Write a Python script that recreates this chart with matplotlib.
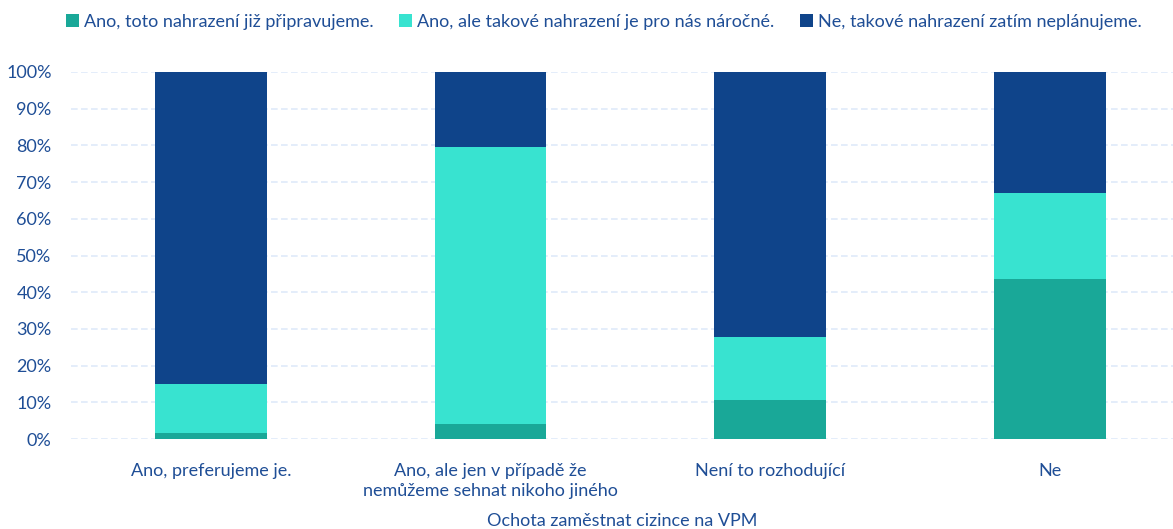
import matplotlib.pyplot as plt
from matplotlib.ticker import PercentFormatter

# Data (share of respondents, %)
categories = [
    "Ano, preferujeme je.",
    "Ano, ale jen v případě že\nnemůžeme sehnat nikoho jiného",
    "Není to rozhodující",
    "Ne",
]
series_names = [
    "Ano, toto nahrazení již připravujeme.",
    "Ano, ale takové nahrazení je pro nás náročné.",
    "Ne, takové nahrazení zatím neplánujeme.",
]
pripravujeme = [1.5, 4.1, 10.7, 43.7]
narocne = [13.4, 75.5, 17.1, 23.4]
neplanujeme = [85.1, 20.4, 72.2, 32.9]

colors = ["#19a898", "#38e3d0", "#0f448a"]
text_color = "#1f4e96"

plt.rcParams["font.family"] = ["Lato", "DejaVu Sans"]

fig = plt.figure(figsize=(11.73, 5.29), dpi=100)
ax = fig.add_axes([71 / 1173, 1 - 439 / 529, (1173 - 71) / 1173, 367 / 529])

x = range(len(categories))
bottom = [0] * len(categories)
for name, vals, c in zip(series_names, [pripravujeme, narocne, neplanujeme], colors):
    ax.bar(x, vals, width=0.4, bottom=bottom, color=c, label=name, zorder=3)
    bottom = [b + v for b, v in zip(bottom, vals)]

ax.set_ylim(0, 100)
ax.set_xlim(-0.5, 3.44)
ax.set_yticks(range(0, 101, 10))
ax.yaxis.set_major_formatter(PercentFormatter(decimals=0))
ax.set_xticks(list(x))
ax.set_xticklabels(categories, linespacing=1.35)
ax.tick_params(axis="both", length=0, labelsize=13, colors=text_color)
ax.tick_params(axis="x", pad=17)
ax.tick_params(axis="y", pad=14)
ax.grid(axis="y", color="#dfeaf9", linestyle=(0, (4, 2)), linewidth=1.2, zorder=0)
for s in ax.spines.values():
    s.set_visible(False)

ax.set_xlabel("Ochota zaměstnat cizince na VPM", color=text_color, fontsize=13, labelpad=10)

fig.legend(
    loc="center",
    bbox_to_anchor=(0.515, 1 - 22 / 529),
    ncol=3,
    frameon=False,
    fontsize=13,
    labelcolor=text_color,
    handlelength=0.7,
    handleheight=0.7,
    handletextpad=0.3,
    columnspacing=1.4,
)

fig.savefig("out.png", dpi=100)
